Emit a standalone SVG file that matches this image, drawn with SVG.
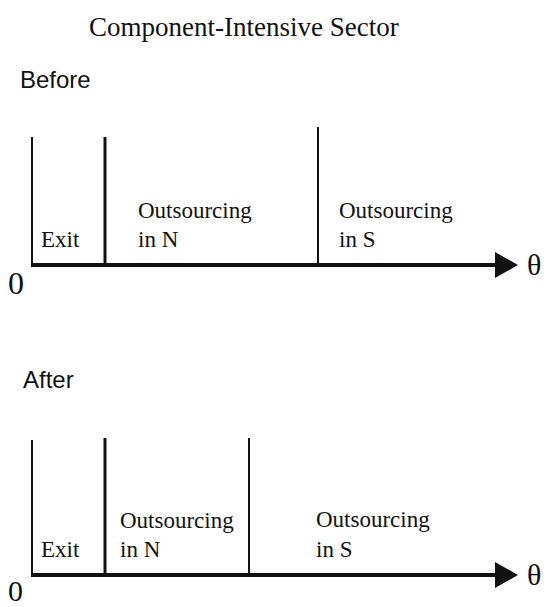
<svg xmlns="http://www.w3.org/2000/svg" width="548" height="607" viewBox="0 0 548 607">
<style>
.serif{font-family:"Liberation Serif","Times New Roman",serif;fill:#111;}
.sans{font-family:"Liberation Sans",Arial,sans-serif;fill:#111;}
.lbl{font-size:23px;}
.axis{stroke:#111;stroke-width:4;fill:none;}
.div{stroke:#111;stroke-width:2;fill:none;}
.divb{stroke:#111;stroke-width:3;fill:none;}
.head{fill:#111;}
</style>
<rect width="548" height="607" fill="#fff"/>
<g id="title"><text class="serif" x="89" y="36" font-size="27">Component-Intensive Sector</text></g>

<g id="before">
  <text class="sans" x="20" y="88" font-size="24">Before</text>
  <g id="before-connectors">
    <line class="div" x1="32" y1="137" x2="32" y2="265"/>
    <line class="divb" x1="105" y1="137" x2="105" y2="265"/>
    <line class="div" x1="318" y1="127" x2="318" y2="265"/>
    <line class="axis" x1="31" y1="265" x2="497" y2="265"/>
    <polygon class="head" points="495,252 518,265 495,278"/>
  </g>
  <g id="before-exit"><text class="serif lbl" x="41" y="247">Exit</text></g>
  <g id="before-n"><text class="serif lbl" x="138" y="218">Outsourcing</text><text class="serif lbl" x="138" y="247">in N</text></g>
  <g id="before-s"><text class="serif lbl" x="339" y="218">Outsourcing</text><text class="serif lbl" x="339" y="247">in S</text></g>
  <text class="serif" x="8" y="294" font-size="32">0</text>
  <text class="serif" x="527" y="275" font-size="30">θ</text>
</g>

<g id="after">
  <text class="sans" x="23" y="388" font-size="24">After</text>
  <g id="after-connectors">
    <line class="div" x1="32" y1="440" x2="32" y2="575"/>
    <line class="divb" x1="105" y1="438" x2="105" y2="575"/>
    <line class="div" x1="249" y1="438" x2="249" y2="575"/>
    <line class="axis" x1="31" y1="575" x2="497" y2="575"/>
    <polygon class="head" points="495,562 518,575 495,588"/>
  </g>
  <g id="after-exit"><text class="serif lbl" x="41" y="557">Exit</text></g>
  <g id="after-n"><text class="serif lbl" x="120" y="528">Outsourcing</text><text class="serif lbl" x="120" y="557">in N</text></g>
  <g id="after-s"><text class="serif lbl" x="316" y="527">Outsourcing</text><text class="serif lbl" x="316" y="557">in S</text></g>
  <text class="serif" x="8" y="601" font-size="30">0</text>
  <text class="serif" x="527" y="585" font-size="30">θ</text>
</g>
</svg>
